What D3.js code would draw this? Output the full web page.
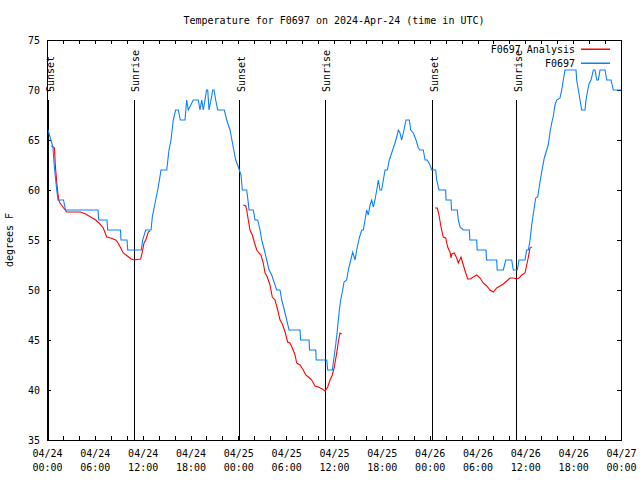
<!DOCTYPE html>
<html><head><meta charset="utf-8">
<script src="https://cdn.jsdelivr.net/npm/d3@7"></script>
<style>
body{margin:0;background:#fff}
text{font-family:"DejaVu Sans Mono","Liberation Mono",monospace;font-size:10px;fill:#000}
</style>
</head><body><svg id="c" width="640" height="480"></svg>
<script>
// hours since 2024-04-24 00:00 UTC
const obsTimes = [0.13,0.38,0.75,0.88,1.09,1.22,1.38,2.07,2.32,6.40,6.49,7.53,7.61,9.22,9.28,10.04,10.12,11.83,12.00,12.38,13.05,13.21,13.55,13.96,14.30,15.02,15.30,15.55,15.84,16.14,16.47,16.72,17.31,17.52,17.72,18.35,18.98,19.19,19.41,19.61,19.82,20.01,20.16,20.32,20.57,20.79,20.95,21.16,21.41,22.24,22.54,22.96,23.24,23.67,24.00,24.34,24.50,25.05,25.25,25.34,25.88,26.09,26.43,26.72,26.93,27.26,27.56,27.85,28.19,28.39,28.81,29.23,29.44,29.77,30.07,30.36,31.74,31.80,32.87,32.93,33.71,33.77,35.09,35.21,35.79,35.96,36.21,36.42,36.67,36.84,37.09,37.26,37.59,37.80,38.10,38.35,38.64,38.85,39.17,39.48,39.68,39.89,40.10,40.30,40.52,40.73,40.93,41.14,41.36,41.56,41.77,41.98,42.19,42.40,42.69,42.94,43.36,43.65,43.87,44.07,44.28,44.49,44.78,45.03,45.45,45.62,45.95,46.29,46.58,46.79,47.20,47.42,47.70,48.04,48.26,48.76,48.88,49.17,50.01,50.05,50.68,50.74,51.47,51.59,51.81,52.22,52.97,53.04,53.90,53.96,55.07,55.13,56.41,56.47,57.24,57.54,58.29,58.49,58.99,59.21,59.96,60.17,60.38,60.59,60.80,61.00,61.30,61.55,61.84,62.05,62.38,62.68,62.88,63.10,63.31,63.51,63.72,63.93,64.35,64.56,64.76,64.98,66.36,66.44,66.65,66.86,67.07,67.49,67.61,67.83,67.99,68.24,68.53,68.74,68.96,69.16,69.37,70.00,70.21,70.75,71.04,72.0];
const obsValues = [66,65.3,64.3,62.7,61,60,59,59,58,58,57,57,56,56,55,55,54,54,55,56,56,57.3,58.7,60.3,62,62,64,65,67,68,68,67,67,69,68,69,69,68,69,68,69,70,70,68,69,70,70,69,68,68,67,66,64.8,63,62.3,61.5,60,60,58.7,58,58,57,57,56,55,54,53,52,51.5,51,50,50,49,48,47,46,46,45,45,44,44,43,43,42,42,43,44.5,46,48,49,50,50.8,51,52,53,53.8,53,54,55.2,56,56,57,58,57.5,58.5,59,58.3,59,60,61,60,60,61,62,62,63,64,64.7,65.3,66,65.7,65,66,67,67,66,65.7,65,64.2,64,64,63,63,62.5,62,62,61,60,60,59,59,58,58,57,56.3,56,56,55,55,54,54,53,53,52,52,53,53,52,52,53,53,54,54,55,56.5,57.6,59.2,59.3,60.8,61.8,63.2,64,64.5,65.8,66.7,67.4,68.5,69,69.2,70,71,72,72,71,70,69,68,68,69,70,70.6,71,72,72,71,71,72,72,71,71,70,70];

const analysisTimes = [0.56,0.94,1.04,1.25,1.47,1.63,1.82,2.09,2.47,4.18,4.85,5.48,6.11,6.52,7.06,7.49,7.99,8.62,8.91,9.25,9.57,10.07,10.57,10.91,11.75,11.95,12.17,12.38,12.71,12.92,
  13.5,
  24.62,24.93,25.05,25.25,25.46,25.75,26.00,26.31,26.59,26.84,27.13,27.35,27.63,27.97,28.26,28.60,28.94,29.23,29.52,29.86,30.19,30.48,30.77,31.11,31.32,31.74,32.15,32.45,32.78,33.20,33.62,34.03,34.53,34.87,35.21,35.50,35.79,36.04,36.34,36.54,36.75,36.97,
  37.5,
  48.67,48.96,49.17,49.42,49.71,50.01,50.26,50.55,50.68,50.77,51.09,51.39,51.59,51.93,52.22,52.52,52.77,53.06,53.48,53.90,54.32,54.73,55.16,55.57,55.98,56.41,56.82,57.24,57.67,58.08,58.49,58.92,59.21,59.55,59.96,60.17,60.38,60.59,60.80];
const analysisValues = [64.4,64.2,62.5,60.5,59,58.7,58.5,58.2,57.8,57.8,57.6,57.3,57,56.7,56.2,55.3,55.2,55,54.7,54.2,53.7,53.4,53.1,53,53.1,53.8,54.7,55,55.8,55.9,
  null,
  58.5,58.4,58,57,56,55.5,54.8,54,53.7,53.5,52.7,51.7,51.3,50.5,49.3,49,48,47,46.6,45.8,44.8,44.7,44.2,43.5,42.7,42.5,42,41.5,41.3,41,40.4,40.3,40.1,39.9,40.3,41,41.5,42.3,43.7,44.8,45.7,45.6,
  null,
  58.2,58.2,57.5,56.3,55.3,55.2,54.3,53.8,53.2,53.6,53.7,53.2,52.7,53.3,52.5,51.7,51.1,51.1,51.3,51.5,51.2,50.7,50.4,50,49.8,50.2,50.4,50.6,50.9,51.2,51.2,51.1,51.2,51.5,51.7,52.5,53.3,54.2,54.3];

const sunTimes = [0.25,10.93,24.2,34.88,48.4,58.95];
const sunLabels = ["Sunset","Sunrise","Sunset","Sunrise","Sunset","Sunrise"];

const yTicks = [35,40,45,50,55,60,65,70,75];
const xMinorTicks = d3.range(0,73,2);
const xLabelHours = [0,6,12,18,24,30,36,42,48,54,60,66,72];
const xLabelDates = ["04/24","04/24","04/24","04/24","04/25","04/25","04/25","04/25","04/26","04/26","04/26","04/26","04/27"];
const xLabelTimes = ["00:00","06:00","12:00","18:00","00:00","06:00","12:00","18:00","00:00","06:00","12:00","18:00","00:00"];
const seriesNames = ["F0697 Analysis","F0697"];
const seriesColors = ["#ff0000","#0a80ff"];

const L=47, R=621, T=40, B=440;
const svg = d3.select("#c");
const x = d3.scaleLinear().domain([0,72]).range([L,R]);
const y = d3.scaleLinear().domain([35,75]).range([B,T]);

svg.append("text").attr("x",(L+R)/2).attr("y",24).attr("text-anchor","middle")
  .text("Temperature for F0697 on 2024-Apr-24 (time in UTC)");

// axes (inward ticks, mirrored)
const ax = (g)=>g.call(s=>s.select(".domain").remove()).selectAll("line").attr("stroke","#000").attr("shape-rendering","crispEdges");
svg.append("g").attr("transform",`translate(0,${B})`)
  .call(d3.axisBottom(x).tickValues(xMinorTicks).tickSize(-4).tickFormat("")).call(ax);
svg.append("g").attr("transform",`translate(0,${T})`)
  .call(d3.axisTop(x).tickValues(xMinorTicks).tickSize(-4).tickFormat("")).call(ax);
svg.append("g").attr("transform",`translate(${L},0)`)
  .call(d3.axisLeft(y).tickValues(yTicks).tickSize(-4).tickPadding(7)).call(ax);
svg.append("g").attr("transform",`translate(${R},0)`)
  .call(d3.axisRight(y).tickValues(yTicks).tickSize(-4).tickFormat("")).call(ax);
const xl = svg.append("g").attr("transform",`translate(0,${B})`)
  .call(d3.axisBottom(x).tickValues(xLabelHours).tickSize(0).tickPadding(10).tickFormat((d,i)=>xLabelDates[i]));
xl.select(".domain").remove();
xl.selectAll(".tick text").each(function(d,i){
  d3.select(this).append("tspan").attr("x",0).attr("dy","1.4em").text(xLabelTimes[i]);
});
svg.selectAll(".tick text").attr("font-family",null).attr("font-size",null).attr("fill","#000");

svg.append("text").attr("transform",`translate(13,${(T+B)/2}) rotate(-90)`).attr("text-anchor","middle").text("degrees F");

// sun events
const sg = svg.append("g");
sg.selectAll("line").data(sunTimes).join("line")
  .attr("x1",d=>x(d)).attr("x2",d=>x(d)).attr("y1",100).attr("y2",B)
  .attr("stroke","#000").attr("shape-rendering","crispEdges");
sg.selectAll("text").data(sunTimes).join("text")
  .attr("transform",d=>`translate(${Math.round(x(d))+5},92) rotate(-90)`).text((d,i)=>sunLabels[i]);

// data
const redData = analysisTimes.map((t,i)=>[t,analysisValues[i]]);
const blueData = obsTimes.map((t,i)=>[t,obsValues[i]]);
const line = d3.line().defined(d=>d[1]!==null).x(d=>x(d[0])).y(d=>y(d[1]));
svg.append("path").attr("d",line(redData)).attr("fill","none").attr("stroke",seriesColors[0]).attr("stroke-width",1.1);
svg.append("path").attr("d",line(blueData)).attr("fill","none").attr("stroke",seriesColors[1]).attr("stroke-width",1.1);

// frame
svg.append("rect").attr("x",L).attr("y",T).attr("width",R-L).attr("height",B-T)
  .attr("fill","none").attr("stroke","#000").attr("shape-rendering","crispEdges");

// legend
const lg = svg.append("g");
seriesNames.forEach((n,i)=>{
  const yy = 49 + i*14;
  lg.append("text").attr("x",575).attr("y",yy+3.5).attr("text-anchor","end").text(n);
  lg.append("rect").attr("x",581).attr("y",yy-0.5).attr("width",29).attr("height",1.5)
    .style("fill",seriesColors[i]).style("stroke","none");
});
</script></body></html>
